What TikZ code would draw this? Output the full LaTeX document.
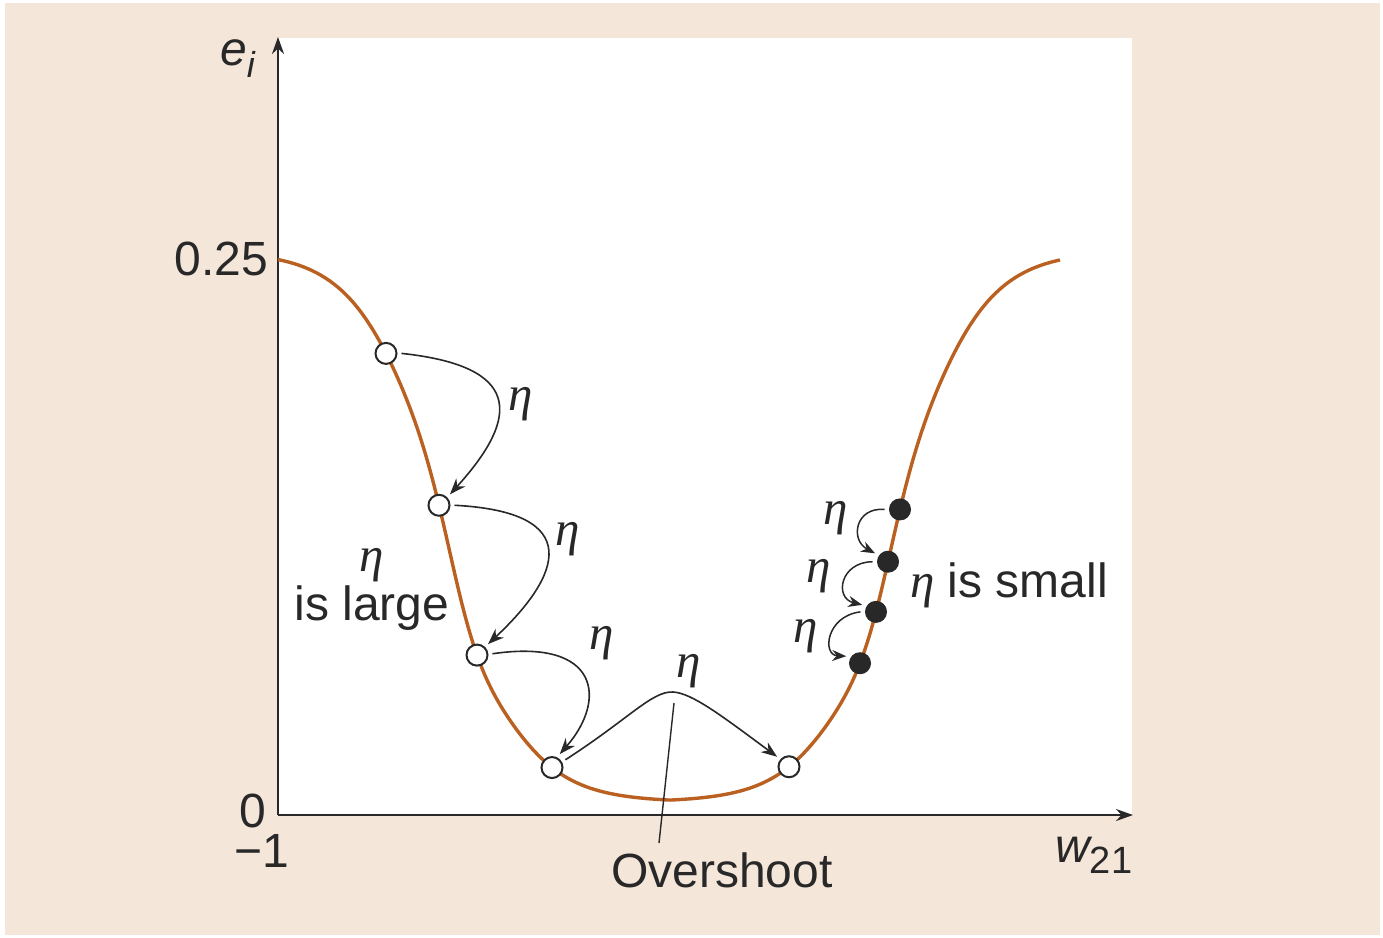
\documentclass[tikz,border=0pt]{standalone}
\usepackage{fontspec}
\setmainfont{Liberation Sans}
\newfontfamily\etafont{Liberation Serif}
\usetikzlibrary{arrows.meta}
\definecolor{peach}{RGB}{245,230,218}
\definecolor{curvecol}{RGB}{186,96,32}
\definecolor{ink}{RGB}{40,40,40}
\newcommand{\eeta}{{\etafont\itshape η}}
\tikzset{
  axis/.style={draw=ink, line width=2.4pt, -{Stealth[length=17pt,width=12pt]}},
  curveline/.style={draw=curvecol, line width=3.4pt},
  jump/.style={draw=ink, line width=1.6pt, -{Stealth[length=16pt,width=12pt]}},
  smalljump/.style={draw=ink, line width=1.5pt, -{Stealth[length=14pt,width=11pt]}},
  openpt/.style={circle, draw=ink, fill=white, line width=2pt, minimum size=21pt, inner sep=0pt, outer sep=5pt},
  fullpt/.style={circle, draw=ink, fill=ink, line width=1pt, minimum size=21pt, inner sep=0pt, outer sep=5pt},
  lbl/.style={font=\fontsize{48}{56}\selectfont, text=ink, inner sep=0pt},
  etalbl/.style={font=\fontsize{49}{56}\selectfont, text=ink, inner sep=0pt},
  leader/.style={draw=ink, line width=1.4pt}
}
\begin{document}
\begin{tikzpicture}[x=1pt,y=-1pt,
  declare function={
    qq(\d)=(\d-213)/45;
    ss(\d)=31+9*(1-exp(-qq(\d)*qq(\d)));
    hh(\d)=551/(1+exp((226-\d)/ss(\d)));
  }]
\useasboundingbox (0,0) rectangle (1383,937);
\fill[white] (0,0) rectangle (1383,937);
\fill[peach] (5,3) rectangle (1380,935);
\fill[white] (278,38) rectangle (1132,815);

% axes
\coordinate (o) at (278,815);
\coordinate (ytop) at (278,37);
\coordinate (xend) at (1133,815);
\draw[axis] (o) -- (ytop);
\draw[axis] (o) -- (xend);

% curve
\draw[curveline] plot[domain=-392:390, samples=260, variable=\t, smooth]
  ({670+\t}, {802-hh(abs(\t))});

% points on the curve
\node[openpt] (p1) at ({670-284},{802-hh(284)}) {};
\node[openpt] (p2) at ({670-231},{802-hh(231)}) {};
\node[openpt] (p3) at ({670-193},{802-hh(193)}) {};
\node[openpt] (p4) at ({670-118},{802-hh(118)}) {};
\node[openpt] (p5) at ({670+119},{802-hh(119)}) {};
\node[fullpt] (f1) at ({670+230},{802-hh(230)}) {};
\node[fullpt] (f2) at ({670+218},{802-hh(218)}) {};
\node[fullpt] (f3) at ({670+206},{802-hh(206)}) {};
\node[fullpt] (f4) at ({670+190},{802-hh(190)}) {};

% large-step arrows
\draw[jump] (p1.east) .. controls (520,366) and (522,415) .. (p2.45);
\draw[jump] (p2.east) .. controls (585,512) and (562,575) .. (p3.45);
\draw[jump] (p3.5) .. controls (600,638) and (607,700) .. (p4.60);
\draw[jump] (p4.30) .. controls (630,718) and (652,691) .. (673,692)
                    .. controls (692,693) and (722,716) .. (p5.140);

% small-step arrows
\draw[smalljump] (f1.180) .. controls (855,507) and (850,540) .. (f2.147);
\draw[smalljump] (f2.180) .. controls (840,562) and (834,598) .. (f3.153);
\draw[smalljump] (f3.180) .. controls (826,616) and (822,655) .. (f4.153);

% overshoot leader
\coordinate (ls) at (674,703);
\coordinate (le) at (659,843);
\draw[leader] (ls) -- (le);

% labels
\node[lbl, anchor=base west] (ei) at (220,65) {\itshape e\raisebox{-12pt}{\fontsize{36}{40}\selectfont i}};
\node[lbl, anchor=base east] (t025) at (268,275) {0.25};
\node[lbl, anchor=base east] (t0) at (266,827) {0};
\node[lbl, anchor=base east] (tm1) at (289,867) {−1};
\node[lbl, anchor=base west] (w21) at (1055,862) {\itshape w\upshape\raisebox{-11pt}{\fontsize{38}{42}\selectfont 21}};
\node[lbl, anchor=base] (ov) at (722,887) {Overshoot};
\node[lbl, anchor=base] (large) at (372,620) {is large};
\node[etalbl, anchor=base] (elarge) at (372,571) {\eeta};
\node[lbl, anchor=base west] (small) at (910,597) {{\fontsize{49}{56}\selectfont\eeta} is small};

\node[etalbl, anchor=base] (e1) at (521,410) {\eeta};
\node[etalbl, anchor=base] (e2) at (568,545) {\eeta};
\node[etalbl, anchor=base] (e3) at (602,649) {\eeta};
\node[etalbl, anchor=base] (e4) at (689,677) {\eeta};
\node[etalbl, anchor=base] (e5) at (836,524) {\eeta};
\node[etalbl, anchor=base] (e6) at (819,582) {\eeta};
\node[etalbl, anchor=base] (e7) at (806,642) {\eeta};
\end{tikzpicture}
\end{document}
